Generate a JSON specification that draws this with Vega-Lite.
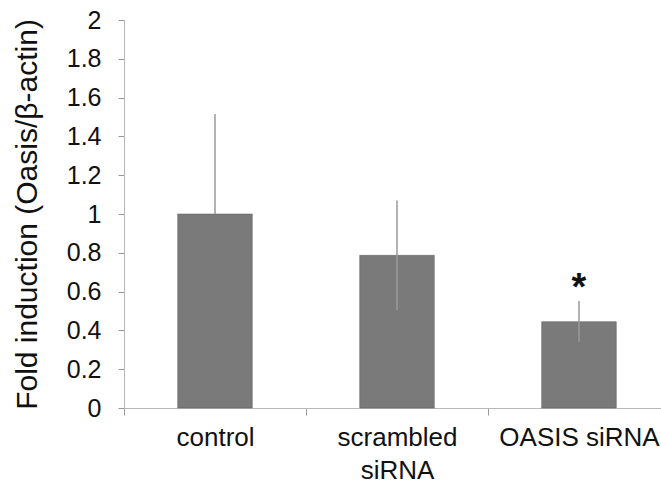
{
  "$schema": "https://vega.github.io/schema/vega-lite/v6.json",
  "width": 537,
  "height": 388,
  "autosize": {"type": "none"},
  "padding": {"left": 124, "top": 20, "right": 0, "bottom": 76},
  "background": "white",
  "config": {
    "view": {"stroke": null},
    "font": "Liberation Sans",
    "axis": {"grid": false, "labelFont": "Liberation Sans", "titleFont": "Liberation Sans", "labelColor": "#111111", "titleColor": "#111111", "domainColor": "#b8b8b8", "tickColor": "#9a9a9a", "titleFontWeight": "normal"},
    "axisY": {"labelOverlap": false, "labelFontSize": 25, "labelPadding": 17, "tickSize": 6, "titleFontSize": 30, "titlePadding": 24, "labelFlush": false}
  },
  "data": {
    "values": [
      {"group": "control", "mean": 1.0, "lo": 1.0, "hi": 1.515, "star": ""},
      {"group": "scrambled siRNA", "mean": 0.787, "lo": 0.505, "hi": 1.069, "star": ""},
      {"group": "OASIS siRNA", "mean": 0.445, "lo": 0.342, "hi": 0.552, "star": "*"}
    ]
  },
  "encoding": {
    "x": {
      "field": "group", "type": "nominal", "sort": null,
      "scale": {"paddingInner": 0, "paddingOuter": 0, "range": [0, 546]},
      "axis": {
        "title": null, "labelAngle": 0, "labelFontSize": 26, "labelPadding": 9,
        "tickBand": "extent", "tickSize": 7, "labelLineHeight": 33,
        "labelExpr": "datum.label == 'scrambled siRNA' ? ['scrambled', 'siRNA'] : datum.label"
      }
    }
  },
  "resolve": {"axis": {"y": "independent"}},
  "layer": [
    {
      "mark": {"type": "bar", "width": {"band": 0.41}, "color": "#7a7a7a", "stroke": "#5a5a5a", "strokeWidth": 0.5},
      "encoding": {
        "y": {
          "field": "mean", "type": "quantitative",
          "scale": {"domain": [0, 2]},
          "axis": {
            "title": "Fold induction (Oasis/β-actin)",
            "values": [0, 0.2, 0.4, 0.6, 0.8, 1, 1.2, 1.4, 1.6, 1.8, 2],
            "format": "~g", "labelOverlap": false
          }
        }
      }
    },
    {
      "mark": {"type": "rule", "color": "#9a9a9a", "strokeWidth": 1.5},
      "encoding": {
        "y": {"field": "lo", "type": "quantitative", "axis": null},
        "y2": {"field": "hi"}
      }
    },
    {
      "mark": {"type": "text", "fontSize": 38, "fontWeight": "bold", "baseline": "middle", "dy": -12, "color": "#111111"},
      "encoding": {
        "y": {"field": "hi", "type": "quantitative", "axis": null},
        "text": {"field": "star"}
      }
    }
  ]
}
